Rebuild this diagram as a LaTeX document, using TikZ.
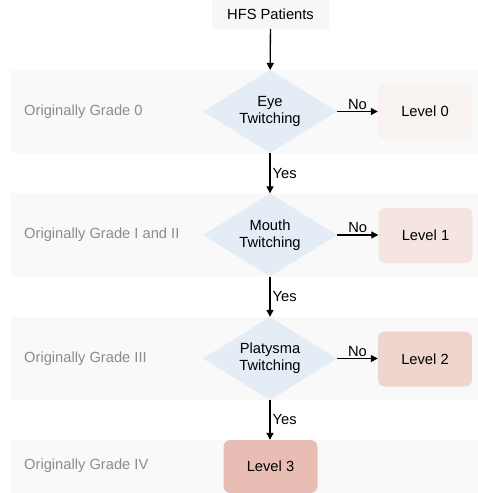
\documentclass[tikz,border=0pt]{standalone}
\usepackage{fontspec}
\setmainfont{Liberation Sans}
\usetikzlibrary{shapes.geometric,arrows.meta}
\definecolor{bandgray}{HTML}{F9F9F9}
\definecolor{startgray}{HTML}{F7F7F7}
\definecolor{diamblue}{HTML}{E4ECF6}
\definecolor{lvlA}{HTML}{F8F2F0}
\definecolor{lvlB}{HTML}{F4E5E1}
\definecolor{lvlC}{HTML}{F0D5CE}
\definecolor{lvlD}{HTML}{E8BEB4}
\definecolor{labgray}{HTML}{8C8C8C}
\begin{document}
\begin{tikzpicture}[x=1pt,y=-1pt,
  every node/.style={font=\fontsize{14.7}{17}\selectfont},
  band/.style={fill=bandgray,draw=none},
  startbox/.style={fill=startgray,draw=none,minimum width=117pt,minimum height=29pt,inner sep=0pt},
  decision/.style={diamond,fill=diamblue,draw=none,aspect=1.614,minimum width=134pt,minimum height=83pt,inner sep=0pt,align=center},
  levelbox/.style={rounded corners=7pt,draw=none,minimum width=94pt,minimum height=55pt,inner sep=0pt},
  gradelabel/.style={anchor=west,text=labgray,inner sep=0pt},
  flow/.style={-{Triangle[length=7pt,width=7pt]},line width=1.3pt,black},
  yeslab/.style={right,inner sep=2pt},
  nolab/.style={above,inner sep=1.5pt}
]
\useasboundingbox (0,0) rectangle (478,493);
% bands
\fill[band] (11,70) rectangle (478,153);
\fill[band] (11,193) rectangle (478,277);
\fill[band] (11,317) rectangle (478,400);
\fill[band] (11,440) rectangle (478,493);
% grade labels
\node[gradelabel] (g0) at (24,111.5) {Originally Grade 0};
\node[gradelabel] (g1) at (24,235) {Originally Grade I and II};
\node[gradelabel] (g2) at (24,358.5) {Originally Grade III};
\node[gradelabel] (g3) at (24,466) {Originally Grade IV};
% nodes
\node[startbox] (start) at (270.5,14.5) {HFS Patients};
\node[decision] (d1) at (270,111.5) {Eye\\Twitching};
\node[decision] (d2) at (270,235) {Mouth\\Twitching};
\node[decision] (d3) at (270,358.5) {Platysma\\Twitching};
\node[levelbox,fill=lvlA] (l0) at (425,111.5) {Level 0};
\node[levelbox,fill=lvlB] (l1) at (425.5,235.5) {Level 1};
\node[levelbox,fill=lvlC] (l2) at (425,359) {Level 2};
\node[levelbox,fill=lvlD,minimum height=53pt] (l3) at (270.5,466.5) {Level 3};
% connectors
\draw[flow] (start) -- (d1);
\draw[flow] (d1) -- node[nolab] {No} (l0);
\draw[flow] (d1) -- node[yeslab] {Yes} (d2);
\draw[flow] (d2) -- node[nolab] {No} (l1.west |- d2.east);
\draw[flow] (d2) -- node[yeslab] {Yes} (d3);
\draw[flow] (d3) -- node[nolab] {No} (l2.west |- d3.east);
\draw[flow] (d3) -- node[yeslab] {Yes} (l3.north -| d3.south);
\end{tikzpicture}
\end{document}
